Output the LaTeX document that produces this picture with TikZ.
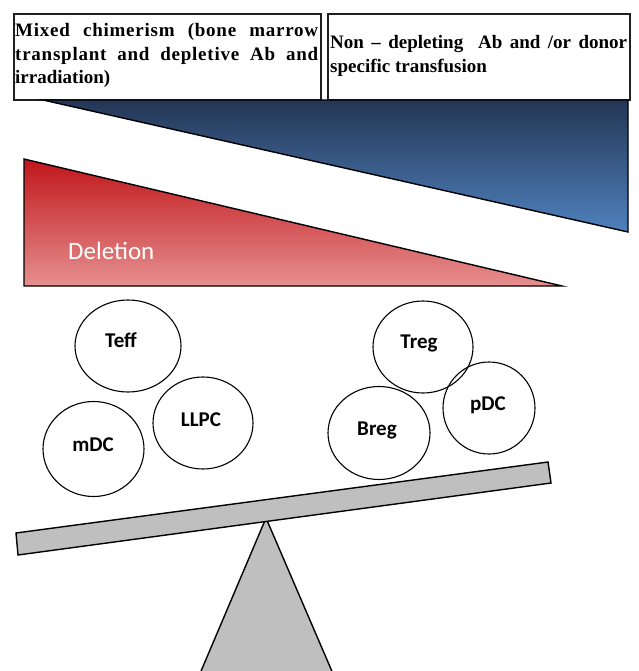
\documentclass[tikz,border=0pt]{standalone}
\usepackage{fontspec}
\setmainfont{Liberation Serif}
\newfontfamily\calfont{Carlito}
\usetikzlibrary{shapes.geometric}
\definecolor{navy}{HTML}{243655}
\definecolor{lightblue}{HTML}{4F81BD}
\definecolor{darkred}{HTML}{C0161A}
\definecolor{pinkred}{HTML}{E68F8F}
\definecolor{beamgray}{HTML}{BFBFBF}
\definecolor{boxline}{HTML}{231F20}
\tikzset{
  hdrbox/.style={draw=boxline, line width=1.6pt, fill=white, anchor=north west, inner sep=0pt},
  hdrtext/.style={anchor=base west, inner sep=0pt, font=\bfseries\fontsize{19}{24}\selectfont},
  cell/.style={draw=black, line width=1.1pt, ellipse, inner sep=0pt},
  celltext/.style={anchor=base, inner sep=0pt, font=\calfont\bfseries\fontsize{21}{24}\selectfont},
  edge/.style={draw=black, line width=1.4pt, line join=miter}
}
\begin{document}
\begin{tikzpicture}[x=1pt,y=-1pt]
\useasboundingbox (0,0) rectangle (638,671);
\clip (0,0) rectangle (638,671);
% header boxes
\node[hdrbox, minimum width=307pt, minimum height=86pt] (b1) at (13,13) {};
\node[hdrbox, minimum width=302pt, minimum height=86pt] (b2) at (327,13) {};
\node[hdrtext] (t1a) at (15,37) {\makebox[303pt][s]{\addfontfeature{LetterSpace=4}Mixed chimerism (bone marrow}};
\node[hdrtext] (t1b) at (15,61) {\makebox[303pt][s]{\addfontfeature{LetterSpace=4}transplant and depletive Ab and}};
\node[hdrtext] (t1c) at (15,84) {irradiation)};
\node[hdrtext] (t2a) at (330,49) {\makebox[297pt][s]{Non – depleting\ \ Ab and /or donor}};
\node[hdrtext] (t2b) at (330,73) {specific transfusion};
% blue wedge
\shade[top color=navy, bottom color=lightblue] (43,100) -- (628,100) -- (628,232) -- cycle;
\draw[edge] (43,100) -- (628,100) -- (628,232) -- cycle;
% red wedge
\shade[top color=darkred, bottom color=pinkred] (24,159) -- (24,286) -- (562,286) -- cycle;
\draw[edge] (24,159) -- (24,286) -- (562,286) -- cycle;
\node[anchor=base west, inner sep=0pt, text=white, font=\calfont\fontsize{25}{30}\selectfont] (del) at (68,259) {Deletion};
% cells
\node[cell, minimum width=106pt, minimum height=92pt] (teff) at (128,346) {};
\node[cell, minimum width=101pt, minimum height=95pt] (mdc) at (93.5,449) {};
\node[cell, minimum width=100pt, minimum height=92pt] (llpc) at (203,423) {};
\node[cell, minimum width=100pt, minimum height=92pt] (treg) at (423,347) {};
\node[cell, minimum width=102pt, minimum height=93pt] (breg) at (379,433) {};
\node[cell, minimum width=92pt, minimum height=92pt] (pdc) at (489,408) {};
\node[celltext] (teffL) at (121,347) {Teff};
\node[celltext] (mdcL) at (93,451) {mDC};
\node[celltext] (llpcL) at (201,426) {LLPC};
\node[celltext] (tregL) at (419,348) {Treg};
\node[celltext] (bregL) at (377,435) {Breg};
\node[celltext] (pdcL) at (488,410) {pDC};
% fulcrum
\filldraw[edge, fill=beamgray] (193,690) -- (266,518) -- (340,690);
% beam
\filldraw[edge, fill=beamgray] (16,533) -- (548,462) -- (551,483) -- (18,555) -- cycle;
\end{tikzpicture}
\end{document}
